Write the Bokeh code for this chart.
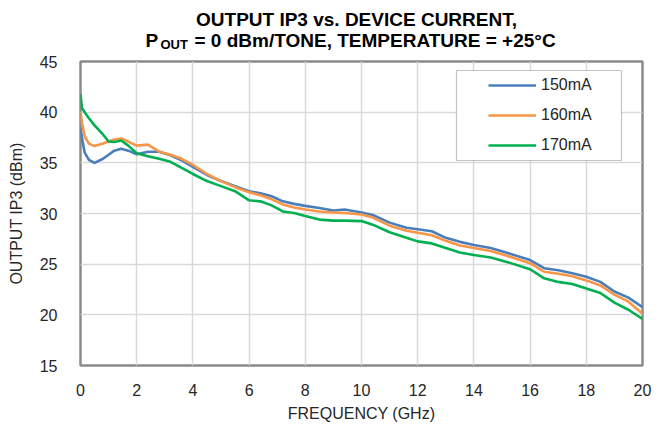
from bokeh.plotting import figure
from bokeh.layouts import column
from bokeh.models import Range1d, FixedTicker, Label, Legend, LegendItem, BoxAnnotation
from bokeh.embed import file_html
from bokeh.resources import INLINE

# ---------------- data ----------------
freq_ghz = [0, 0.05, 0.15, 0.3, 0.5, 0.8, 1.0, 1.2, 1.45, 1.7, 2.0, 2.4, 2.8, 3.2, 3.6,
            4.0, 4.5, 5.0, 5.5, 6.0, 6.4, 6.8, 7.2, 7.6, 8.0, 8.5, 9.0, 9.4, 10.0, 10.4,
            11.0, 11.6, 12.0, 12.5, 13.0, 13.5, 14.0, 14.6, 15.2, 16.0, 16.5, 17.0, 17.5,
            18.0, 18.5, 19.0, 19.5, 20.0]

ip3_150ma = [38.5, 37.5, 36.0, 35.3, 35.0, 35.4, 35.8, 36.2, 36.4, 36.2, 35.85, 36.1, 36.1, 35.75, 35.25,
             34.6, 33.8, 33.2, 32.7, 32.2, 32.0, 31.7, 31.2, 30.95, 30.75, 30.55, 30.3, 30.4, 30.1, 29.85,
             29.1, 28.6, 28.45, 28.25, 27.6, 27.2, 26.9, 26.6, 26.1, 25.4, 24.6, 24.4, 24.1,
             23.75, 23.25, 22.3, 21.7, 20.75]

ip3_160ma = [40.0, 39.0, 37.6, 36.9, 36.65, 36.9, 37.1, 37.3, 37.4, 37.1, 36.7, 36.8, 36.1, 35.8, 35.4,
             34.8, 33.9, 33.2, 32.6, 32.1, 31.8, 31.4, 30.9, 30.6, 30.4, 30.2, 30.1, 30.05, 29.9, 29.6,
             28.8, 28.3, 28.1, 27.85, 27.3, 26.85, 26.6, 26.3, 25.8, 25.1, 24.25, 24.05, 23.8,
             23.4, 22.9, 22.0, 21.3, 20.1]

ip3_170ma = [41.8, 40.4, 40.0, 39.4, 38.7, 37.8, 37.1, 37.05, 37.2, 36.7, 35.95, 35.65, 35.4, 35.1, 34.5,
             33.9, 33.2, 32.7, 32.2, 31.3, 31.2, 30.8, 30.2, 30.05, 29.75, 29.4, 29.3, 29.3, 29.25, 28.9,
             28.15, 27.6, 27.25, 27.05, 26.6, 26.15, 25.9, 25.65, 25.2, 24.5, 23.6, 23.25, 23.05,
             22.6, 22.15, 21.2, 20.5, 19.6]

series_labels = ["150mA", "160mA", "170mA"]
series_colors = ["#4A7EBB", "#F79646", "#00B050"]
x_ticks = [0, 2, 4, 6, 8, 10, 12, 14, 16, 18, 20]
y_ticks = [15, 20, 25, 30, 35, 40, 45]

title_line1 = "OUTPUT IP3 vs. DEVICE CURRENT,"
title_line2_p = "P"
title_line2_sub = "OUT"
title_line2_rest = "= 0 dBm/TONE, TEMPERATURE = +25°C"
x_title = "FREQUENCY (GHz)"
y_title = "OUTPUT IP3 (dBm)"

FONT = "Liberation Sans"
W = 660
BL, BR = 80, 18          # left / right borders shared by both figures
TH = 52                  # title strip height

# ---------------- title strip ----------------
tp = figure(width=W, height=TH, output_backend="svg", toolbar_location=None,
            x_range=Range1d(BL, W - BR), y_range=Range1d(TH, 0),
            x_axis_type=None, y_axis_type=None)
tp.min_border_left = BL
tp.min_border_right = BR
tp.min_border_top = 0
tp.min_border_bottom = 0
tp.outline_line_color = None
tp.grid.visible = False
tp.background_fill_color = "white"
tp.border_fill_color = "white"

def add_title_text(x, y, text, size, align="left"):
    tp.add_layout(Label(x=x, y=y, text=text, text_align=align, text_baseline="middle",
                        text_font=FONT, text_font_style="bold", text_font_size=size,
                        text_color="black"))

add_title_text(356, 19, title_line1, "19px", "center")
add_title_text(145, 40, title_line2_p, "19px")
add_title_text(160, 44, title_line2_sub, "13px")
add_title_text(194, 40, title_line2_rest, "19px")

# ---------------- main chart ----------------
p = figure(width=W, height=425 - TH - 1, output_backend="svg", toolbar_location=None,
           x_range=Range1d(0, 20), y_range=Range1d(15, 45))
p.min_border_left = BL
p.min_border_right = BR
p.min_border_top = 61 - TH
p.min_border_bottom = 55
p.background_fill_color = "white"
p.border_fill_color = "white"
p.outline_line_color = "#8A8A8A"
p.outline_line_width = 2.5

for ax in (p.xaxis[0], p.yaxis[0]):
    ax.axis_line_color = None
    ax.major_tick_line_color = None
    ax.minor_tick_line_color = None
    ax.major_label_text_font = FONT
    ax.major_label_text_font_size = "16px"
    ax.major_label_text_color = "#262626"
    ax.axis_label_text_font = FONT
    ax.axis_label_text_font_size = "16px"
    ax.axis_label_text_font_style = "normal"
    ax.axis_label_text_color = "#262626"
p.xaxis.ticker = FixedTicker(ticks=x_ticks)
p.yaxis.ticker = FixedTicker(ticks=y_ticks)
p.xaxis.major_label_standoff = 12
p.yaxis.major_label_standoff = 17
p.xaxis.axis_label = x_title
p.yaxis.axis_label = y_title
p.xaxis.axis_label_standoff = 6
p.yaxis.axis_label_standoff = 12

p.xgrid.grid_line_color = "#D9D9D9"
p.ygrid.grid_line_color = "#D9D9D9"
p.xgrid.grid_line_width = 1.5
p.ygrid.grid_line_width = 1.5

renderers = []
for ys, col in zip([ip3_150ma, ip3_160ma, ip3_170ma], series_colors):
    r = p.line(freq_ghz, ys, line_color=col, line_width=2.6, line_join="round")
    renderers.append(r)

# legend box
box = BoxAnnotation(left=376, right=541, top=295, bottom=205,
                    left_units="screen", right_units="screen",
                    top_units="screen", bottom_units="screen",
                    fill_color="white", fill_alpha=1.0,
                    line_color="#404040", line_width=1.2, level="annotation")
p.add_layout(box)

legend = Legend(items=[LegendItem(label=l, renderers=[r]) for l, r in zip(series_labels, renderers)],
                location=(408, 210), orientation="vertical",
                glyph_width=48, glyph_height=20, label_height=20, spacing=10,
                label_standoff=5, padding=0, margin=0,
                border_line_color=None, background_fill_alpha=0,
                label_text_font=FONT, label_text_font_size="16px", label_text_color="#262626")
p.add_layout(legend, "center")

layout = column(tp, p, spacing=0)
open("out.html", "w").write(file_html(layout, INLINE))
